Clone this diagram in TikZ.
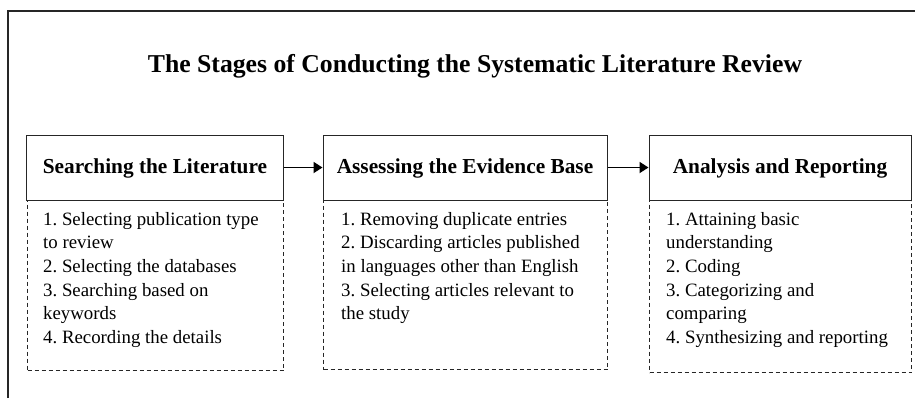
\documentclass[tikz,border=0pt]{standalone}
\usepackage{fontspec}
\setmainfont{Liberation Serif}
\usetikzlibrary{arrows.meta}
\frenchspacing

\tikzset{
  frameline/.style={line width=2bp, black!85},
  stagehead/.style={draw=black!85, line width=1bp, fill=white, rectangle,
    minimum height=65bp, inner sep=0pt, text height=12bp, text depth=0pt,
    font=\fontsize{21.4}{24}\selectfont\bfseries},
  stagebody/.style={draw=black!85, line width=1.1bp, dash pattern=on 4bp off 3bp,
    rectangle, anchor=north west, inner sep=0pt},
  stagelist/.style={anchor=north west, inner sep=0pt, align=left,
    font=\fontsize{18.9}{23.6}\selectfont},
  flow/.style={line width=1.8bp, black, -{Triangle[length=9bp,width=11bp]}},
  headline/.style={anchor=base, inner sep=0pt, font=\fontsize{25.8}{30}\selectfont\bfseries}
}

\begin{document}
\begin{tikzpicture}[x=1bp, y=-1bp]
  \useasboundingbox (0,0) rectangle (915,398);

  % outer frame
  \draw[frameline] (8,398) -- (8,11) -- (915,11);

  % title
  \node[headline] (title) at (475,72) {The Stages of Conducting the Systematic Literature Review};

  % dashed bodies
  \node[stagebody, minimum width=256bp, minimum height=170bp] (b1) at (27,200) {};
  \node[stagebody, minimum width=284bp, minimum height=169bp] (b2) at (323,200) {};
  \node[stagebody, minimum width=262bp, minimum height=172bp] (b3) at (649,200) {};

  % headers
  \node[stagehead, minimum width=256bp] (h1) at (155,167.5) {Searching the Literature};
  \node[stagehead, minimum width=284bp] (h2) at (465,167.5) {Assessing the Evidence Base};
  \node[stagehead, minimum width=262bp] (h3) at (780,167.5) {Analysis and Reporting};

  % list texts
  \node[stagelist] (t1) at (43,212.2) {1. Selecting publication type\\to review\\2. Selecting the databases\\3. Searching based on\\keywords\\4. Recording the details};
  \node[stagelist] (t2) at (341,212.2) {1. Removing duplicate entries\\2. Discarding articles published\\in languages other than English\\3. Selecting articles relevant to\\the study};
  \node[stagelist] (t3) at (666,212.2) {1. Attaining basic\\understanding\\2. Coding\\3. Categorizing and\\comparing\\4. Synthesizing and reporting};

  % connectors
  \draw[flow] (h1.east) -- (h2.west);
  \draw[flow] (h2.east) -- (h3.west);
\end{tikzpicture}
\end{document}
